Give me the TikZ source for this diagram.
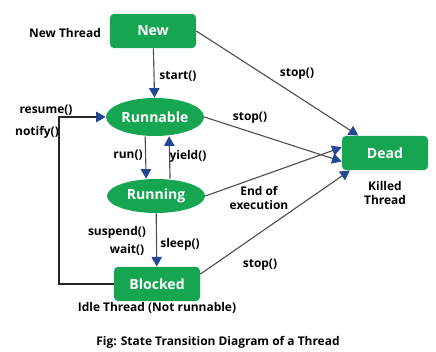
\documentclass[tikz,border=0pt]{standalone}
\usepackage{fontspec}
\setmainfont{Open Sans}
\usetikzlibrary{positioning,arrows.meta,shapes.geometric}
\definecolor{stategreen}{RGB}{22,166,82}
\definecolor{tipblue}{RGB}{35,70,150}
\definecolor{linegray}{RGB}{80,80,80}

\begin{document}
\begin{tikzpicture}[
  x=0.025cm, y=-0.025cm,
  statebox/.style={rectangle, fill=stategreen, rounded corners=3pt,
                   minimum width=2.15cm, minimum height=0.86cm,
                   text=white, font=\fontsize{10}{12}\selectfont\bfseries},
  stateoval/.style={ellipse, fill=stategreen, inner sep=0pt,
                    minimum width=2.45cm, minimum height=0.95cm,
                    text=white, font=\fontsize{10}{12}\selectfont\bfseries},
  lbl/.style={font=\fontsize{8.5}{10.5}\selectfont\bfseries, align=center, inner sep=0pt},
  arr/.style={-{Triangle[length=0.24cm, width=0.26cm, color=tipblue]}, draw=linegray, line width=0.8pt}
]
\useasboundingbox (0,0) rectangle (436,352);
\node[statebox] (new) at (153,31) {New};
\node[stateoval] (runnable) at (155,117) {Runnable};
\node[stateoval, minimum height=0.85cm] (running) at (156,196) {Running};
\node[statebox] (blocked) at (157,284) {Blocked};
\node[statebox] (dead) at (385,153) {Dead};
% labels
\node[lbl] (newlbl) at (65,33) {New Thread};
\node[lbl] (startlbl) at (178,76) {start()};
\node[lbl] (resumelbl) at (46,110) {resume()};
\node[lbl] (notifylbl) at (37,132) {notify()};
\node[lbl] (runlbl) at (128,155) {run()};
\node[lbl] (yieldlbl) at (188,156) {yield()};
\node[lbl] (stoptop) at (297,74) {stop()};
\node[lbl] (stopmid) at (250,118) {stop()};
\node[lbl] (endlbl) at (259,198) {End of\\execution};
\node[lbl] (killedlbl) at (385,193) {Killed\\Thread};
\node[lbl] (suspendlbl) at (117,232) {suspend()};
\node[lbl] (waitlbl) at (127,250) {wait()};
\node[lbl] (sleeplbl) at (180,244) {sleep()};
\node[lbl] (stopbot) at (260,265) {stop()};
\node[lbl] (idlelbl) at (157,308) {Idle Thread (Not runnable)};
\node[lbl] (caption) at (218,342) {Fig: State Transition Diagram of a Thread};
% transitions
\draw[arr] (new) -- (runnable);
\draw[arr] ([xshift=-7]runnable.south) -- ([xshift=-7]running.north);
\draw[arr] ([xshift=10]running.north) -- ([xshift=10]runnable.south);
\draw[arr] (running) -- (blocked);
\draw[arr, draw=black!85, line width=1.2pt] (blocked.west) -- ++(-55,0) |- (runnable.west);
\draw[arr] (new.east) -- ([xshift=-19]dead.north);
\draw[arr] (runnable.east) -- ([yshift=-6]dead.west);
\draw[arr] (running.east) -- ([yshift=4]dead.west);
\draw[arr] ([yshift=7]blocked.east) -- ([xshift=-25]dead.south);
\end{tikzpicture}
\end{document}
